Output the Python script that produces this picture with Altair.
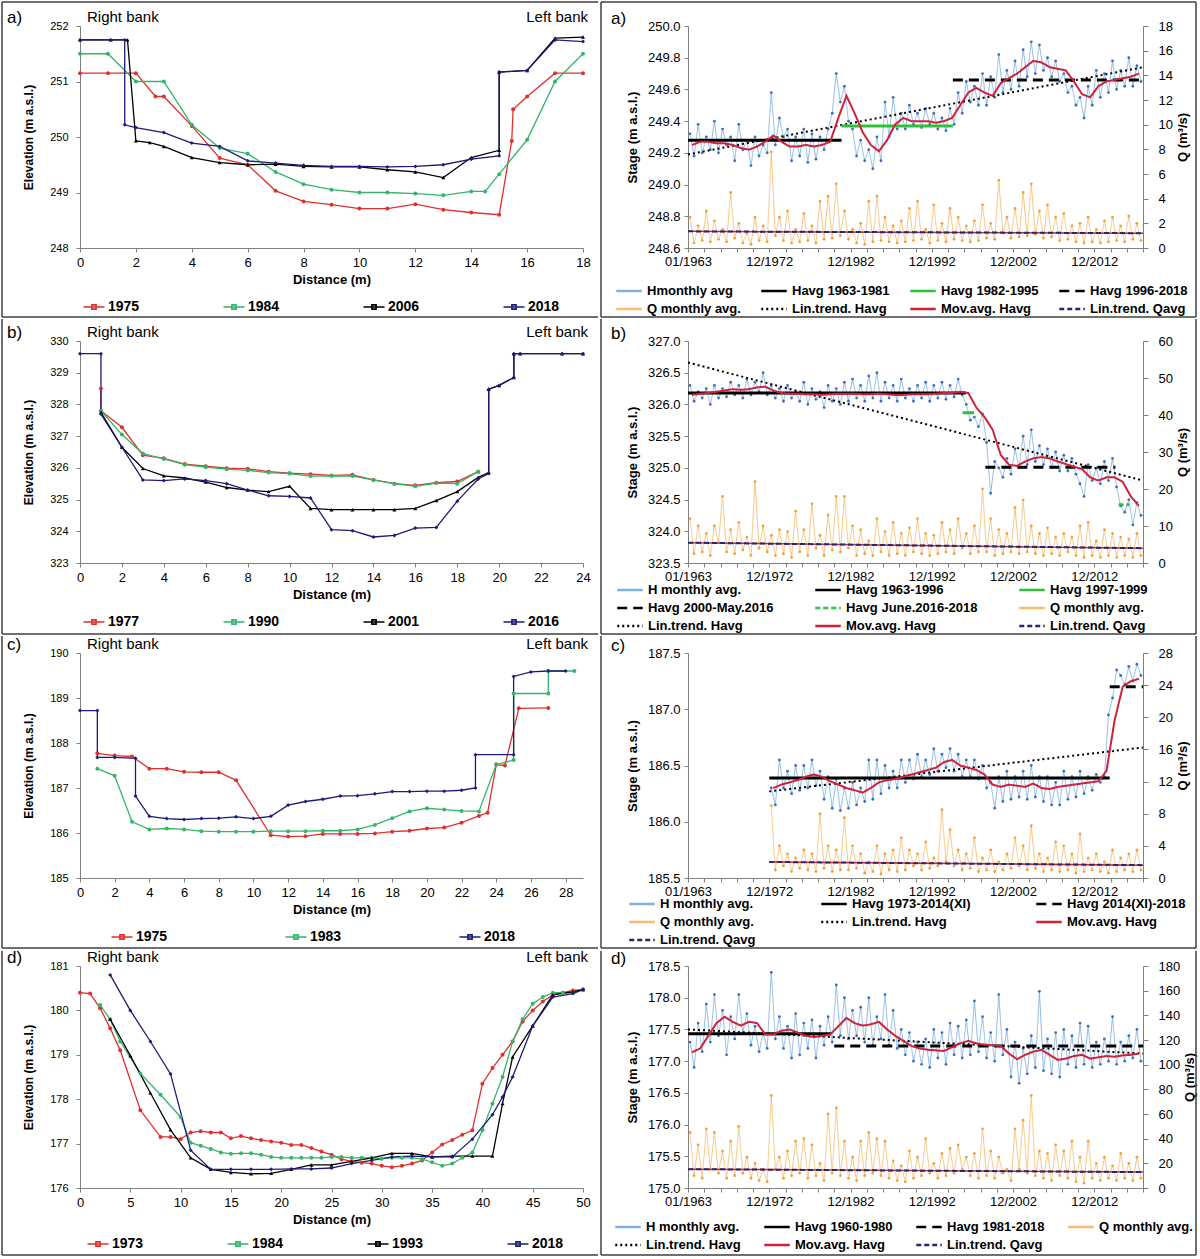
import altair as alt
import pandas as pd

FONT = "Liberation Sans"

# ---------------- cross-section data (distance m, elevation m a.s.l.) ----------------
A1975_D = [0, 1, 2, 2.7, 3, 4, 5, 6, 7, 8, 9, 10, 11, 12, 13, 14, 15, 15.45, 15.5, 16, 17, 18]
A1975_E = [251.15, 251.15, 251.15, 250.73, 250.73, 250.2, 249.62, 249.5, 249.03, 248.84, 248.78, 248.71, 248.71, 248.79, 248.69, 248.64, 248.6, 249.93, 250.5, 250.73, 251.15, 251.15]
A1984_D = [0, 1, 2, 3, 4, 5, 6, 7, 8, 9, 10, 11, 12, 13, 14, 14.5, 15, 16, 17, 18]
A1984_E = [251.5, 251.5, 251.0, 251.0, 250.22, 249.8, 249.7, 249.37, 249.15, 249.05, 249.0, 249.0, 248.98, 248.95, 249.02, 249.02, 249.33, 249.95, 251.0, 251.5]
A2006_D = [0, 1.1, 1.7, 2, 2.5, 3, 4, 5, 6, 7, 8, 9, 10, 11, 12, 13, 14, 15, 15, 16, 17, 18]
A2006_E = [251.75, 251.75, 251.75, 249.93, 249.9, 249.83, 249.63, 249.54, 249.5, 249.51, 249.47, 249.46, 249.46, 249.41, 249.37, 249.27, 249.63, 249.76, 251.17, 251.2, 251.78, 251.8]
A2018_D = [0, 1.1, 1.6, 1.6, 2, 3, 4, 5, 6, 7, 8, 9, 10, 11, 12, 13, 14, 15, 15, 16, 17, 18]
A2018_E = [251.75, 251.75, 251.75, 250.22, 250.17, 250.08, 249.89, 249.83, 249.57, 249.53, 249.49, 249.47, 249.47, 249.46, 249.47, 249.5, 249.6, 249.66, 251.17, 251.2, 251.75, 251.72]

B1977_D = [1, 1, 2, 3, 4, 5, 6, 7, 8, 9, 10, 11, 12, 13, 14, 15, 16, 17, 18, 19]
B1977_E = [328.5, 327.8, 327.28, 326.4, 326.3, 326.12, 326.05, 325.99, 325.97, 325.88, 325.83, 325.8, 325.76, 325.78, 325.62, 325.5, 325.45, 325.53, 325.57, 325.88]
B1990_D = [1, 2, 3, 4, 5, 6, 7, 8, 9, 10, 11, 12, 13, 14, 15, 16, 17, 18, 19]
B1990_E = [327.8, 327.05, 326.45, 326.28, 326.1, 326.02, 325.96, 325.92, 325.85, 325.82, 325.74, 325.75, 325.74, 325.62, 325.5, 325.42, 325.52, 325.5, 325.88]
B2001_D = [1, 2, 3, 4, 5, 6, 7, 8, 9, 10, 11, 12, 13, 14, 15, 16, 17, 18, 19, 19.5, 19.5, 20, 20.7, 20.7, 21, 23, 24]
B2001_E = [327.75, 326.65, 325.98, 325.75, 325.68, 325.55, 325.38, 325.3, 325.25, 325.42, 324.72, 324.68, 324.68, 324.68, 324.68, 324.72, 324.97, 325.25, 325.7, 325.85, 328.48, 328.6, 328.85, 329.6, 329.6, 329.6, 329.6]
B2016_D = [0, 1, 1, 2, 3, 4, 5, 6, 7, 8, 9, 10, 11, 12, 13, 14, 15, 16, 17, 18, 19, 19.5, 19.5, 20, 20.7, 20.7, 21, 23, 24]
B2016_E = [329.6, 329.6, 327.7, 326.65, 325.62, 325.6, 325.65, 325.6, 325.5, 325.3, 325.12, 325.1, 325.05, 324.05, 324.02, 323.82, 323.87, 324.1, 324.12, 324.95, 325.65, 325.82, 328.48, 328.6, 328.85, 329.6, 329.6, 329.6, 329.6]

C1975_D = [1, 2, 3, 4, 5, 6, 7, 8, 9, 11, 12, 13, 14, 15, 16, 17, 18, 19, 20, 21, 22, 23, 23.5, 24, 24.5, 25.3, 27]
C1975_E = [187.77, 187.72, 187.7, 187.43, 187.43, 187.36, 187.35, 187.35, 187.17, 185.95, 185.92, 185.93, 185.98, 185.98, 185.98, 185.99, 186.03, 186.05, 186.1, 186.12, 186.23, 186.38, 186.45, 187.52, 187.5, 188.77, 188.78]
C1983_D = [1, 2, 3, 4, 5, 6, 7, 8, 9, 10, 11, 12, 13, 14, 15, 16, 17, 18, 19, 20, 21, 22, 23, 24, 25, 25, 27, 27, 28.5]
C1983_E = [187.43, 187.27, 186.25, 186.08, 186.1, 186.08, 186.04, 186.03, 186.03, 186.03, 186.04, 186.04, 186.04, 186.05, 186.05, 186.08, 186.18, 186.33, 186.48, 186.55, 186.52, 186.49, 186.48, 187.52, 187.62, 189.1, 189.1, 189.6, 189.6]
C2018_D = [0, 1, 1, 2, 3.2, 3.2, 4, 5, 6, 7, 8, 9, 10, 11, 12, 13, 14, 15, 16, 17, 18, 19, 20, 21, 22, 22.8, 22.8, 25, 25, 26, 27, 28]
C2018_E = [188.72, 188.72, 187.68, 187.68, 187.66, 186.82, 186.37, 186.32, 186.3, 186.32, 186.33, 186.36, 186.32, 186.37, 186.62, 186.7, 186.75, 186.82, 186.83, 186.87, 186.92, 186.92, 186.93, 186.93, 186.95, 187.0, 187.74, 187.74, 189.48, 189.58, 189.6, 189.6]

D1973_D = [0, 1, 2, 3, 4, 6, 8, 9, 10, 11, 12, 13, 14, 15, 16, 17, 18, 19, 20, 21, 22, 23, 24, 25, 26, 27, 28, 29, 30,
           31, 32, 33, 34, 35, 36, 37, 38, 39, 40, 41, 42, 43, 44, 45, 46, 47, 48, 49, 50]
D1973_E = [180.4, 180.38, 180.05, 179.6, 179.1, 177.75, 177.15, 177.15, 177.1, 177.25, 177.28, 177.25, 177.25, 177.12,
           177.17, 177.12, 177.08, 177.05, 177.02, 176.97, 176.97, 176.9, 176.82, 176.75, 176.65, 176.6, 176.57, 176.55,
           176.5, 176.47, 176.5, 176.55, 176.62, 176.8, 176.98, 177.08, 177.2, 177.3, 178.35, 178.7, 179.0, 179.3,
           179.75, 180.0, 180.2, 180.35, 180.4, 180.45, 180.47]
D1984_D = [2, 3, 4, 6, 8, 10, 11, 12, 13, 14, 15, 16, 17, 18, 19, 20, 21, 22, 23, 24, 25, 26, 27, 28, 29, 30,
           31, 32, 33, 34, 35, 36, 37, 38, 39, 40, 41, 42, 43, 44, 45, 46, 47, 48, 49, 50]
D1984_E = [180.12, 179.8, 179.3, 178.58, 178.1, 177.6, 177.02, 176.95, 176.88, 176.8, 176.77, 176.78, 176.78, 176.75,
           176.7, 176.68, 176.68, 176.68, 176.68, 176.68, 176.7, 176.7, 176.68, 176.68, 176.68, 176.66, 176.68, 176.68,
           176.68, 176.65, 176.58, 176.5, 176.55, 176.68, 176.8, 177.3, 177.9, 178.5, 179.3, 179.8, 180.15, 180.3,
           180.4, 180.4, 180.4, 180.47]
D1993_D = [3, 5, 7, 9, 11, 13, 15, 17, 19, 21, 23, 25, 27, 29, 31, 33, 35, 37, 39, 41, 42, 43, 45, 47, 49, 50]
D1993_E = [179.8, 178.98, 178.14, 177.31, 176.68, 176.42, 176.35, 176.32, 176.33, 176.42, 176.52, 176.52, 176.6,
           176.68, 176.78, 176.78, 176.7, 176.72, 176.72, 176.72, 177.9, 178.95, 179.65, 180.35, 180.42, 180.47]
D2018_D = [3, 5, 7, 9, 11, 13, 15, 17, 19, 21, 23, 25, 27, 29, 31, 33, 35, 37, 39, 41, 42, 43, 45, 47, 49, 50]
D2018_E = [180.8, 180.0, 179.3, 178.57, 176.85, 176.42, 176.42, 176.42, 176.42, 176.43, 176.43, 176.45, 176.55,
           176.62, 176.7, 176.72, 176.7, 176.7, 177.1, 177.65, 178.05, 178.5, 179.65, 180.3, 180.38, 180.47]

# ---------------- time series: two readings per year (first / second half) ----------------
A_H = [249.32, 249.18, 249.38, 249.20, 249.30, 249.22, 249.40, 249.20, 249.35, 249.25,
       249.30, 249.15, 249.38, 249.22, 249.28, 249.12, 249.30, 249.18, 249.25, 249.20,
       249.58, 249.25, 249.42, 249.30, 249.35, 249.15, 249.30, 249.18, 249.35, 249.14,
       249.32, 249.16, 249.30, 249.22, 249.35, 249.45, 249.70, 249.52, 249.62, 249.40,
       249.35, 249.18, 249.28, 249.15, 249.22, 249.10, 249.30, 249.15, 249.52, 249.30,
       249.55, 249.35, 249.45, 249.35, 249.50, 249.38, 249.45, 249.36, 249.48, 249.38,
       249.45, 249.35, 249.42, 249.34, 249.48, 249.38, 249.58, 249.45, 249.65, 249.52,
       249.62, 249.50, 249.70, 249.50, 249.68, 249.55, 249.82, 249.58, 249.72, 249.60,
       249.78, 249.62, 249.85, 249.68, 249.90, 249.70, 249.88, 249.72, 249.80, 249.68,
       249.78, 249.65, 249.70, 249.58, 249.62, 249.50, 249.55, 249.42, 249.62, 249.50,
       249.72, 249.55, 249.70, 249.58, 249.78, 249.60, 249.72, 249.62, 249.80, 249.62,
       249.75, 249.65]
A_Q = [2.5, 0.4, 1.8, 0.6, 3.0, 0.5, 2.2, 0.7, 1.5, 0.5,
       4.5, 0.8, 2.0, 0.4, 1.2, 0.3, 2.5, 0.6, 1.8, 0.5,
       7.8, 1.0, 2.5, 0.6, 3.0, 0.4, 1.5, 0.5, 2.8, 0.6,
       1.8, 0.4, 3.8, 0.7, 4.2, 0.8, 5.2, 1.0, 3.0, 0.7,
       1.5, 0.4, 2.0, 0.3, 3.8, 0.5, 4.2, 0.6, 2.5, 0.5,
       1.8, 0.4, 2.2, 0.5, 3.2, 0.6, 3.8, 0.7, 1.5, 0.4,
       3.5, 0.6, 2.0, 0.5, 3.2, 0.7, 2.5, 0.6, 1.8, 0.5,
       2.2, 0.6, 3.5, 0.8, 2.0, 0.7, 5.5, 1.2, 2.5, 0.8,
       3.2, 0.9, 4.5, 1.0, 5.2, 1.1, 3.0, 0.8, 3.5, 0.9,
       2.5, 0.6, 2.8, 0.7, 1.8, 0.5, 2.0, 0.4, 2.5, 0.5,
       1.5, 0.4, 2.2, 0.5, 2.5, 0.6, 1.8, 0.5, 2.6, 0.7,
       2.0, 0.6]
A_MA = [249.25, 249.27, 249.27, 249.26, 249.26, 249.25, 249.23, 249.22, 249.24, 249.27,
        249.31, 249.27, 249.24, 249.24, 249.25, 249.24, 249.25, 249.27, 249.42, 249.56,
        249.45, 249.33, 249.25, 249.21, 249.28, 249.38, 249.42, 249.40, 249.40, 249.40,
        249.39, 249.40, 249.42, 249.50, 249.58, 249.61, 249.58, 249.56, 249.64, 249.67,
        249.70, 249.74, 249.78, 249.77, 249.74, 249.73, 249.72, 249.65, 249.57, 249.55,
        249.62, 249.65, 249.66, 249.67, 249.68, 249.70]

B_H = [326.30, 326.05, 326.20, 326.10, 326.25, 326.00, 326.30, 326.10, 326.25, 326.12,
       326.35, 326.15, 326.30, 326.10, 326.40, 326.15, 326.35, 326.20, 326.50, 326.15,
       326.30, 326.10, 326.25, 326.05, 326.30, 326.10, 326.20, 326.05, 326.35, 326.00,
       326.25, 326.08, 326.20, 325.95, 326.30, 326.05, 326.25, 326.00, 326.35, 326.05,
       326.40, 326.10, 326.30, 326.05, 326.45, 326.10, 326.50, 326.05, 326.35, 326.10,
       326.30, 326.05, 326.40, 326.10, 326.25, 326.05, 326.30, 326.10, 326.35, 326.05,
       326.30, 326.10, 326.35, 326.08, 326.30, 326.12, 326.40, 326.15, 326.00, 325.75,
       325.80, 325.65, 325.85, 325.40, 324.60, 325.10, 325.00, 324.85, 325.15, 324.90,
       325.30, 325.00, 325.50, 325.05, 325.60, 325.10, 325.35, 325.05, 325.30, 325.00,
       325.25, 324.95, 325.20, 324.95, 325.15, 324.90, 324.75, 324.55, 325.05, 324.80,
       325.00, 324.75, 325.10, 324.80, 325.15, 324.70, 324.40, 324.30, 324.50, 324.10,
       324.45, 324.25]
B_Q = [12.0, 2.5, 10.0, 3.0, 8.0, 2.0, 10.0, 5.5, 18.0, 3.0,
       9.0, 2.5, 11.0, 3.5, 7.0, 2.0, 22.0, 4.0, 10.0, 3.0,
       7.5, 2.0, 9.0, 2.5, 8.5, 1.5, 14.0, 3.0, 9.0, 2.0,
       16.0, 4.0, 7.5, 2.0, 13.0, 3.5, 18.0, 3.0, 18.0, 4.0,
       10.0, 2.0, 9.0, 2.5, 6.0, 2.0, 12.0, 3.0, 8.5, 2.0,
       11.0, 2.5, 8.0, 2.0, 9.5, 3.0, 12.0, 2.5, 8.0, 2.0,
       7.5, 2.5, 11.0, 3.0, 9.0, 2.5, 12.0, 4.0, 8.0, 2.5,
       10.0, 3.0, 20.0, 3.0, 12.0, 2.0, 9.0, 2.5, 8.0, 3.0,
       15.0, 2.5, 17.0, 3.0, 10.0, 2.5, 8.0, 2.0, 9.5, 2.5,
       7.0, 2.0, 8.0, 3.0, 7.0, 2.0, 10.0, 1.5, 11.0, 2.0,
       6.0, 1.5, 9.0, 2.0, 8.0, 1.5, 7.0, 2.0, 6.5, 1.5,
       8.0, 2.0]
B_MA = [326.15, 326.17, 326.18, 326.20, 326.22, 326.24, 326.23, 326.24, 326.27, 326.28,
        326.22, 326.18, 326.17, 326.17, 326.16, 326.16, 326.15, 326.16, 326.17, 326.17,
        326.17, 326.16, 326.16, 326.17, 326.16, 326.15, 326.15, 326.16, 326.16, 326.16,
        326.17, 326.18, 326.18, 326.20, 326.18, 325.95, 325.80, 325.60, 325.20, 325.05,
        325.03, 325.10, 325.15, 325.17, 325.15, 325.10, 325.06, 325.02, 324.98, 324.85,
        324.80, 324.85, 324.85, 324.78, 324.55, 324.40]

C_H = [186.30, 186.15, 186.55, 186.30, 186.45, 186.25, 186.50, 186.28, 186.50, 186.30,
       186.55, 186.32, 186.45, 186.20, 186.40, 186.12, 186.38, 186.10, 186.30, 186.12,
       186.35, 186.15, 186.30, 186.18, 186.55, 186.20, 186.55, 186.25, 186.50, 186.30,
       186.45, 186.30, 186.55, 186.35, 186.55, 186.38, 186.60, 186.40, 186.55, 186.42,
       186.65, 186.45, 186.60, 186.48, 186.65, 186.45, 186.60, 186.40, 186.55, 186.40,
       186.55, 186.38, 186.50, 186.30, 186.35, 186.12, 186.40, 186.18, 186.45, 186.20,
       186.40, 186.22, 186.45, 186.20, 186.50, 186.22, 186.40, 186.18, 186.40, 186.15,
       186.35, 186.15, 186.45, 186.20, 186.40, 186.22, 186.45, 186.25, 186.40, 186.28,
       186.42, 186.35, 186.40, 186.95, 187.10, 187.35, 187.30, 187.22, 187.38, 187.25,
       187.40, 187.30]
C_Q = [9.0, 1.0, 4.0, 1.5, 3.0, 0.8, 2.5, 1.2, 3.5, 1.0,
       3.0, 0.8, 8.0, 1.2, 4.0, 0.8, 3.5, 1.0, 7.5, 1.0,
       4.0, 1.2, 3.0, 0.6, 2.0, 0.8, 4.0, 0.5, 3.0, 1.0,
       3.5, 0.8, 5.0, 1.0, 3.5, 1.5, 3.0, 1.0, 4.5, 1.2,
       2.5, 1.5, 8.5, 2.0, 6.0, 1.5, 3.5, 1.0, 3.0, 1.2,
       5.0, 0.8, 2.5, 1.0, 3.5, 0.8, 2.0, 1.0, 3.0, 1.2,
       5.0, 1.5, 4.0, 1.0, 6.5, 1.2, 3.0, 0.8, 2.5, 1.0,
       4.5, 0.8, 4.0, 1.0, 3.0, 0.6, 5.5, 0.8, 2.5, 1.0,
       3.0, 0.8, 2.0, 0.6, 3.5, 0.8, 2.5, 1.0, 3.0, 0.8,
       3.5, 1.0]
C_MA = [186.30, 186.33, 186.35, 186.37, 186.40, 186.42, 186.40, 186.36, 186.33, 186.30,
        186.28, 186.26, 186.30, 186.35, 186.37, 186.38, 186.40, 186.42, 186.44, 186.46,
        186.48, 186.53, 186.55, 186.50, 186.48, 186.46, 186.42, 186.33, 186.31, 186.33,
        186.32, 186.31, 186.34, 186.30, 186.29, 186.31, 186.32, 186.33, 186.34, 186.35,
        186.36, 186.45, 186.90, 187.20, 187.25, 187.27]

D_H = [177.30, 176.90, 177.60, 177.15, 177.90, 177.30, 178.05, 177.40, 177.80, 177.10,
       177.70, 177.35, 178.05, 177.45, 177.75, 177.25, 177.55, 177.15, 177.45, 177.20,
       178.40, 177.35, 177.70, 177.20, 177.55, 177.05, 177.75, 177.10, 177.60, 177.20,
       177.65, 177.05, 177.55, 177.25, 177.70, 177.30, 178.20, 177.40, 178.00, 177.35,
       177.80, 177.40, 177.85, 177.30, 178.00, 177.25, 177.70, 177.35, 178.05, 177.25,
       177.80, 177.20, 177.50, 177.10, 177.45, 177.00, 177.30, 176.95, 177.35, 176.90,
       177.50, 177.05, 177.45, 176.95, 177.60, 177.10, 177.55, 177.05, 177.65, 177.10,
       177.95, 177.15, 177.70, 177.05, 177.45, 177.00, 178.05, 177.10, 177.50, 176.75,
       177.30, 176.65, 177.20, 176.80, 177.40, 176.90, 178.10, 176.85, 177.35, 176.80,
       177.45, 176.75, 177.50, 176.95, 177.40, 176.90, 177.60, 176.95, 177.55, 176.90,
       177.30, 176.95, 177.35, 177.00, 177.70, 176.95, 177.30, 177.00, 177.40, 177.05,
       177.50, 177.00]
D_Q = [45, 10, 35, 8, 48, 15, 45, 12, 30, 8,
       38, 10, 50, 12, 25, 8, 20, 6, 15, 5,
       75, 15, 25, 8, 30, 10, 38, 12, 40, 8,
       35, 10, 20, 6, 60, 12, 65, 10, 38, 8,
       25, 6, 38, 10, 45, 12, 40, 10, 38, 8,
       22, 6, 18, 5, 30, 8, 25, 10, 40, 12,
       20, 8, 28, 10, 32, 12, 35, 15, 25, 10,
       28, 8, 48, 10, 30, 8, 25, 12, 15, 6,
       48, 15, 55, 12, 75, 10, 30, 8, 28, 6,
       35, 10, 30, 8, 38, 5, 25, 4, 38, 8,
       20, 6, 25, 8, 18, 6, 28, 8, 20, 6,
       25, 8]
D_MA = [177.14, 177.20, 177.40, 177.60, 177.70, 177.62, 177.56, 177.62, 177.60, 177.42,
        177.42, 177.48, 177.50, 177.45, 177.40, 177.38, 177.40, 177.42, 177.55, 177.68,
        177.60, 177.56, 177.58, 177.62, 177.50, 177.40, 177.32, 177.24, 177.20, 177.18,
        177.17, 177.16, 177.22, 177.28, 177.32, 177.28, 177.26, 177.25, 177.24, 177.12,
        177.03, 177.10, 177.15, 177.18, 177.10, 177.02, 177.04, 177.08, 177.10, 177.04,
        177.06, 177.08, 177.07, 177.09, 177.10, 177.12]

# Havg period means: (label, start year, end year, stage)
A_SEG = [("Havg 1963-1981", 1963.0, 1981.9, 249.28), ("Havg 1982-1995", 1981.9, 1995.6, 249.37),
         ("Havg 1996-2018", 1995.6, 2019.0, 249.66)]
B_SEG = [("Havg 1963-1996", 1963.0, 1997.2, 326.18), ("Havg 1997-1999", 1996.8, 1998.2, 325.87),
         ("Havg 2000-May.2016", 1999.6, 2015.6, 325.01), ("Havg June.2016-2018", 2016.0, 2017.3, 324.42)]
C_SEG = [("Havg 1973-2014(XI)", 1973.0, 2014.9, 186.39), ("Havg 2014(XI)-2018", 2014.9, 2019.0, 187.2)]
D_SEG = [("Havg 1960-1980", 1963.0, 1980.6, 177.43), ("Havg 1981-2018", 1981.0, 2019.0, 177.24)]

# linear trends: (start value, end value)
A_HTR, A_QTR = (249.19, 249.74), (1.35, 1.2)
B_HTR, B_QTR = (326.66, 324.80), (5.5, 4.0)
C_HTR, C_QTR = (186.27, 186.66), (2.0, 1.6)
D_HTR, D_QTR = (177.50, 177.12), (15.3, 12.9)

# ---------------- styles ----------------
H_LINE, H_PT = "#7fb0e0", "#2b63b3"
Q_LINE, Q_PT = "#f5bd72", "#ee9a2a"
BLACK, GREEN, RED, NAVY = "#000000", "#2fbf3a", "#d0213a", "#25286e"
FRAME = "#404040"
S = [1, 0]
STYLE = {
    "Hmonthly avg": (H_LINE, S), "H monthly avg.": (H_LINE, S), "Q monthly avg.": (Q_LINE, S),
    "Havg 1963-1981": (BLACK, S), "Havg 1982-1995": (GREEN, S), "Havg 1996-2018": (BLACK, [10, 6]),
    "Havg 1963-1996": (BLACK, S), "Havg 1997-1999": (GREEN, S), "Havg 2000-May.2016": (BLACK, [10, 6]),
    "Havg June.2016-2018": (GREEN, [5, 3]), "Havg 1973-2014(XI)": (BLACK, S),
    "Havg 2014(XI)-2018": (BLACK, [10, 6]), "Havg 1960-1980": (BLACK, S), "Havg 1981-2018": (BLACK, [10, 6]),
    "Lin.trend. Havg": (BLACK, [2, 3]), "Mov.avg. Havg": (RED, S), "Lin.trend. Qavg": (NAVY, [5, 3]),
}
XS_COLOR = {"1973": "#e0302e", "1975": "#e0302e", "1977": "#e0302e", "1983": "#35b56a", "1984": "#35b56a",
            "1990": "#35b56a", "1993": "#000000", "2001": "#000000", "2006": "#000000", "2018": "#1c1c78",
            "2016": "#1c1c78"}
XS_SHAPE = {"1973": "circle", "1975": "circle", "1977": "circle", "1983": "circle", "1984": "circle",
            "1990": "circle", "1993": "triangle-up", "2001": "triangle-up", "2006": "triangle-up",
            "2018": "diamond", "2016": "diamond"}
XS_LEG_SYM = "M-1.5,0H1.5M-0.3,-0.3H0.3V0.3H-0.3Z"
TS_LEG_SYM = "M-1.7,0H1.7"
INDEP = dict(color="independent", strokeDash="independent", shape="independent")
ONE = pd.DataFrame({"k": [0]})


def hline(x1, x2, y, op=1.0):
    return alt.Chart(ONE).mark_rule(color=FRAME, strokeWidth=1.5, opacity=op).encode(
        x=alt.value(x1), x2=alt.value(x2), y=alt.value(y))


def vline(x, y1, y2):
    return alt.Chart(ONE).mark_rule(color=FRAME, strokeWidth=1.5).encode(
        x=alt.value(x), y=alt.value(y1), y2=alt.value(y2))


def frame(left_x, right_x, top, bottom, top_visible, verticals):
    layers = [hline(left_x, right_x, top, 1.0 if top_visible else 0.0), hline(left_x, right_x, bottom)]
    layers += [vline(x, top, bottom) for x in verticals]
    return layers


def letter_layer(txt, px, py):
    return alt.Chart(pd.DataFrame({"t": [txt]})).mark_text(
        align="left", baseline="middle", fontSize=17, font=FONT, color="#000"
    ).encode(x=alt.value(px), y=alt.value(py), text="t:N")


def xsec(letter, series, xdom, xticks, ydom, height, legx, colpad, fr, leg_gap=51):
    rows = []
    for name, d, e in series:
        for i, (a, b) in enumerate(zip(d, e)):
            rows.append({"yr": name, "dist": a, "elev": b, "i": i})
    df = pd.DataFrame(rows)
    names = [s[0] for s in series]
    colors = [XS_COLOR[n] for n in names]
    leg = alt.Legend(title=None, orient="none", legendX=legx, legendY=height + leg_gap, columns=len(names),
                     direction="horizontal", symbolType=XS_LEG_SYM, symbolSize=196, symbolStrokeWidth=1.6,
                     labelFontSize=14, labelFontWeight="bold", labelFont=FONT, columnPadding=colpad,
                     labelOffset=6, labelLimit=0)
    X = alt.X("dist:Q", scale=alt.Scale(domain=xdom, nice=False, zero=False),
              axis=alt.Axis(title="Distance (m)", values=xticks, labelFontSize=13, titleFontSize=13,
                            labelPadding=4, titlePadding=4, tickSize=4, labelFlush=False))
    Y = alt.Y("elev:Q", scale=alt.Scale(domain=ydom, nice=False, zero=False),
              axis=alt.Axis(title="Elevation (m a.s.l.)", values=list(range(int(ydom[0]), int(ydom[1]) + 1)),
                            labelFontSize=11, titleFontSize=12, labelPadding=8, titlePadding=14, tickSize=4))
    C = alt.Color("yr:N", scale=alt.Scale(domain=names, range=colors), legend=leg)
    base = alt.Chart(df)
    lines = base.mark_line(strokeWidth=1.3).encode(x=X, y=Y, color=C, order="i:Q", detail="yr:N")
    pts = [alt.Chart(df[df["yr"] == n]).mark_point(
        filled=True, size=16, opacity=1, shape=XS_SHAPE[n], color=XS_COLOR[n]).encode(x=X, y=Y)
        for n in names]
    rb = alt.Chart(pd.DataFrame({"dist": [xdom[0]], "elev": [ydom[1]], "t": ["Right bank"]})).mark_text(
        align="left", baseline="bottom", dx=7, dy=-1, fontSize=15, font=FONT, color="#000"
    ).encode(x=X, y=Y, text="t:N")
    lb = alt.Chart(pd.DataFrame({"dist": [xdom[1]], "elev": [ydom[1]], "t": ["Left bank"]})).mark_text(
        align="right", baseline="bottom", dx=5, dy=-1, fontSize=15, font=FONT, color="#000"
    ).encode(x=X, y=Y, text="t:N")
    top, bottom, vis = fr
    borders = frame(-78, 518, top, bottom, vis, [-78])
    return alt.layer(lines, *pts, rb, lb, letter_layer(letter, -73, -8), *borders).properties(
        width=503, height=height)


def ts(letter, start, h_vals, q_vals, ma_vals, segs, htr, qtr, hname, order, hdom, hticks, qdom, qticks,
       height, cols, legx, legy, colpad, fr):
    hx = [y + f for y in range(start, 2019) for f in (0.25, 0.75)]
    mx = [y + 0.5 for y in range(start, 2019)]
    hdf = pd.DataFrame({"x": hx, "v": h_vals, "s": hname})
    qdf = pd.DataFrame({"x": hx, "q": q_vals, "s": "Q monthly avg."})
    madf = pd.DataFrame({"x": mx, "v": ma_vals, "s": "Mov.avg. Havg"})
    seg_rows = []
    for name, x1, x2, val in segs:
        seg_rows += [{"x": x1, "v": val, "s": name}, {"x": x2, "v": val, "s": name}]
    segdf = pd.DataFrame(seg_rows)
    htrdf = pd.DataFrame({"x": [float(start), 2019.0], "v": list(htr), "s": "Lin.trend. Havg"})
    qtrdf = pd.DataFrame({"x": [float(start), 2019.0], "q": list(qtr), "s": "Lin.trend. Qavg"})

    colors = [STYLE[n][0] for n in order]
    dashes = [STYLE[n][1] for n in order]
    leg = alt.Legend(title=None, orient="none", legendX=legx, legendY=legy, columns=cols,
                     direction="horizontal", symbolType=TS_LEG_SYM, symbolSize=225, symbolStrokeWidth=2.5,
                     labelFontSize=13, labelFontWeight="bold", labelFont=FONT, columnPadding=colpad,
                     rowPadding=2, labelOffset=9, labelLimit=0)
    C = alt.Color("s:N", scale=alt.Scale(domain=order, range=colors), legend=leg)
    D = alt.StrokeDash("s:N", scale=alt.Scale(domain=order, range=dashes), legend=leg)
    X = alt.X("x:Q", scale=alt.Scale(domain=[1963, 2019], nice=False, zero=False),
              axis=alt.Axis(title=None, values=list(range(1963, 2020, 2)), labelOverlap=False,
                            labelExpr="datum.value == 1963 ? '01/1963' : ((datum.value - 1963) % 10 == 0 ? '12/' + (datum.value - 1) : '')",
                            labelFontSize=13, tickSize=4, labelPadding=3, labelFlush=False))
    YH = alt.Y("v:Q", scale=alt.Scale(domain=hdom, nice=False, zero=False),
               axis=alt.Axis(title="Stage (m a.s.l.)", values=hticks, format=".1f", orient="left",
                             labelFontSize=13, titleFontSize=13, tickSize=4, labelPadding=4, titlePadding=8))
    YQ = alt.Y("q:Q", scale=alt.Scale(domain=qdom, nice=False, zero=False),
               axis=alt.Axis(title="Q (m³/s)", values=qticks, orient="right", titleAngle=270,
                             titleBaseline="top", labelFontSize=13, titleFontSize=13, tickSize=5,
                             labelPadding=10, titlePadding=4))

    h_line = alt.Chart(hdf).mark_line(strokeWidth=0.9).encode(x=X, y=YH, color=C, strokeDash=D)
    h_pts = alt.Chart(hdf).mark_circle(size=8, color=H_PT, opacity=0.9).encode(x=X, y=YH)
    seg = alt.Chart(segdf).mark_line(strokeWidth=3).encode(x=X, y=YH, color=C, strokeDash=D, detail="s:N")
    htl = alt.Chart(htrdf).mark_line(strokeWidth=2).encode(x=X, y=YH, color=C, strokeDash=D)
    mal = alt.Chart(madf).mark_line(strokeWidth=2).encode(x=X, y=YH, color=C, strokeDash=D)
    hgroup = alt.layer(h_line, h_pts, htl, seg, mal)

    q_line = alt.Chart(qdf).mark_line(strokeWidth=0.9).encode(x=X, y=YQ, color=C, strokeDash=D)
    q_pts = alt.Chart(qdf).mark_circle(size=8, color=Q_PT, opacity=0.9).encode(x=X, y=YQ)
    q_red = alt.Chart(qtrdf).mark_line(strokeWidth=1.5, color=RED).encode(x=X, y=YQ)
    qtl = alt.Chart(qtrdf).mark_line(strokeWidth=2).encode(x=X, y=YQ, color=C, strokeDash=D)
    qgroup = alt.layer(q_line, q_pts, q_red, qtl)

    top, bottom, vis = fr
    borders = frame(-87, 508, top, bottom, vis, [-87, 508])
    return alt.layer(hgroup, qgroup, letter_layer(letter, -77, -7), *borders).resolve_scale(
        y="independent").properties(width=455, height=height)


def frange(a, step, n):
    return [round(a + step * k, 2) for k in range(n)]


# panel frame (top, bottom) relative to the plot tops, first row has a visible top edge
FR_A, FR_B, FR_C, FR_D = (-24, 291, True), (-22, 293, False), (-17, 295, False), (-15, 289, False)

left_a = xsec("a)", [("1975", A1975_D, A1975_E), ("1984", A1984_D, A1984_E), ("2006", A2006_D, A2006_E),
                     ("2018", A2018_D, A2018_E)], [0, 18], list(range(0, 19, 2)), [248, 252], 222, 6, 80, FR_A)
left_b = xsec("b)", [("1977", B1977_D, B1977_E), ("1990", B1990_D, B1990_E), ("2001", B2001_D, B2001_E),
                     ("2016", B2016_D, B2016_E)], [0, 24], list(range(0, 25, 2)), [323, 330], 222, 6, 80, FR_B)
left_c = xsec("c)", [("1975", C1975_D, C1975_E), ("1983", C1983_D, C1983_E), ("2018", C2018_D, C2018_E)],
              [0, 29], list(range(0, 29, 2)), [185, 190], 225, 34, 114, FR_C)
left_d = xsec("d)", [("1973", D1973_D, D1973_E), ("1984", D1984_D, D1984_E), ("1993", D1993_D, D1993_E),
                     ("2018", D2018_D, D2018_E)], [0, 50], list(range(0, 51, 5)), [176, 181], 222, 10, 80, FR_D,
              leg_gap=48)

right_a = ts("a)", 1963, A_H, A_Q, A_MA, A_SEG, A_HTR, A_QTR, "Hmonthly avg",
             ["Hmonthly avg", "Havg 1963-1981", "Havg 1982-1995", "Havg 1996-2018",
              "Q monthly avg.", "Lin.trend. Havg", "Mov.avg. Havg", "Lin.trend. Qavg"],
             [248.6, 250.0], frange(248.6, 0.2, 8), [0, 18], list(range(0, 19, 2)),
             222, 4, -68, 256, 15, FR_A)
right_b = ts("b)", 1963, B_H, B_Q, B_MA, B_SEG, B_HTR, B_QTR, "H monthly avg.",
             ["H monthly avg.", "Havg 1963-1996", "Havg 1997-1999", "Havg 2000-May.2016",
              "Havg June.2016-2018", "Q monthly avg.", "Lin.trend. Havg", "Mov.avg. Havg", "Lin.trend. Qavg"],
             [323.5, 327.0], frange(323.5, 0.5, 8), [0, 60], list(range(0, 61, 10)),
             222, 3, -67, 240, 36, FR_B)
right_c = ts("c)", 1973, C_H, C_Q, C_MA, C_SEG, C_HTR, C_QTR, "H monthly avg.",
             ["H monthly avg.", "Havg 1973-2014(XI)", "Havg 2014(XI)-2018",
              "Q monthly avg.", "Lin.trend. Havg", "Mov.avg. Havg", "Lin.trend. Qavg"],
             [185.5, 187.5], frange(185.5, 0.5, 5), [0, 28], list(range(0, 29, 4)),
             225, 3, -55, 242, 60, FR_C)
right_d = ts("d)", 1963, D_H, D_Q, D_MA, D_SEG, D_HTR, D_QTR, "H monthly avg.",
             ["H monthly avg.", "Havg 1960-1980", "Havg 1981-2018", "Q monthly avg.",
              "Lin.trend. Havg", "Mov.avg. Havg", "Lin.trend. Qavg"],
             [175.0, 178.5], frange(175.0, 0.5, 8), [0, 180], list(range(0, 181, 20)),
             222, 4, -69, 252, 18, FR_D)

rows = [alt.hconcat(l, r, spacing=1).resolve_scale(**INDEP).resolve_legend(**INDEP) for l, r in
        [(left_a, right_a), (left_b, right_b), (left_c, right_c), (left_d, right_d)]]

chart = alt.vconcat(*rows, spacing=0).resolve_scale(**INDEP).resolve_legend(**INDEP).properties(
    padding={"left": 1, "top": 1, "right": 1, "bottom": 1}
).configure(font=FONT).configure_view(stroke=None).configure_axis(
    grid=False, labelColor="#000", titleColor="#000", domainColor="#7f7f7f", tickColor="#7f7f7f",
    titleFontWeight="bold", labelFont=FONT, titleFont=FONT
).configure_legend(labelColor="#000")

chart.save("out.html", embed_options={"renderer": "svg", "actions": False})
